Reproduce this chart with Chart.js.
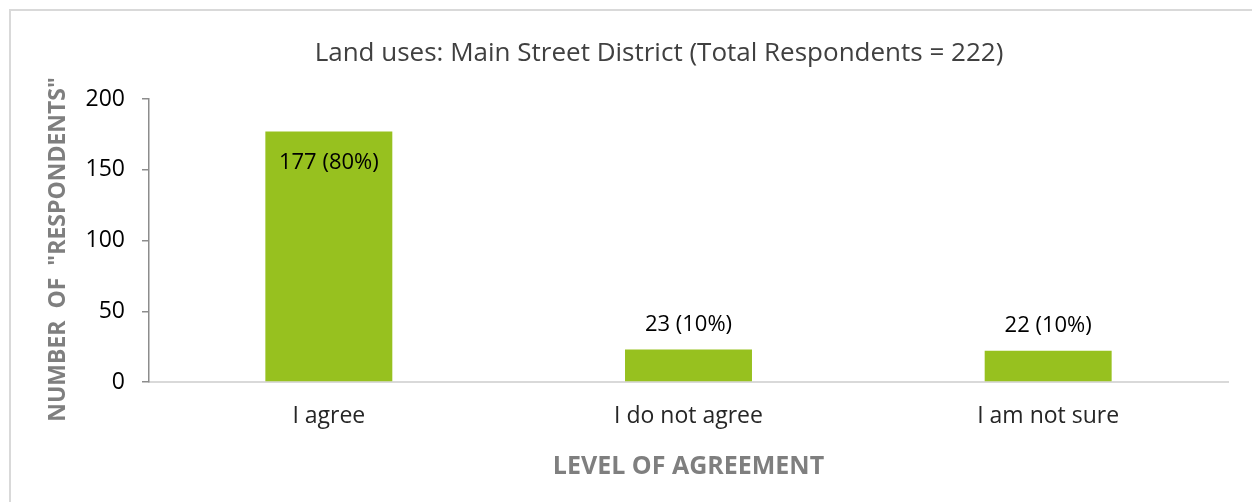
<!DOCTYPE html>
<html>
<head>
<meta charset="utf-8">
<script src="https://cdn.jsdelivr.net/npm/chart.js@4.4.1/dist/chart.umd.min.js"></script>
<style>
    html, body { margin: 0; padding: 0; background: #fff; }
    #wrap { position: relative; width: 1252px; height: 502px; overflow: hidden; }
    #frame { position: absolute; left: 9px; top: 9px; width: 1400px; height: 600px;
             border-left: 2px solid #d9d9d9; border-top: 2px solid #d9d9d9; }
    #chart { position: absolute; left: 0; top: 0; }
</style>
</head>
<body>
<div id="wrap">
    <div id="frame"></div>
    <canvas id="chart" width="1252" height="502"></canvas>
</div>
<script>
// Dữ liệu biểu đồ
const categories = ['I agree', 'I do not agree', 'I am not sure'];
const respondents = [177, 23, 22];
const percents = [80, 10, 10];
const yTicks = [0, 50, 100, 150, 200];

const chartTitle = 'Land uses: Main Street District (Total Respondents = 222)';
const FONT = "'Open Sans', sans-serif";

// Tiêu đề biểu đồ (lệch phải như bản gốc)
const topTitle = {
    id: 'topTitle',
    afterDraw(chart) {
        const ctx = chart.ctx;
        ctx.save();
        ctx.font = '26px ' + FONT;
        ctx.fillStyle = '#404040';
        ctx.textAlign = 'center';
        ctx.textBaseline = 'middle';
        ctx.fillText(chartTitle, 659, 54);
        ctx.restore();
    }
};

// Nhãn dữ liệu: bên trong đầu cột nếu cột cao, phía trên nếu cột thấp
const barLabels = {
    id: 'barLabels',
    afterDatasetsDraw(chart) {
        const ctx = chart.ctx;
        const meta = chart.getDatasetMeta(0);
        ctx.save();
        ctx.font = '22px ' + FONT;
        ctx.fillStyle = '#000';
        ctx.textAlign = 'center';
        ctx.textBaseline = 'middle';
        meta.data.forEach(function(bar, i) {
            const text = respondents[i] + ' (' + percents[i] + '%)';
            const h = bar.base - bar.y;
            const y = h > 60 ? bar.y + 31 : bar.y - 25;
            ctx.fillText(text, bar.x, y);
        });
        ctx.restore();
    }
};

new Chart(document.getElementById('chart').getContext('2d'), {
    type: 'bar',
    data: {
        labels: categories,
        datasets: [{
            data: respondents,
            backgroundColor: '#97c11f',
            borderWidth: 0,
            categoryPercentage: 1,
            barPercentage: 0.353
        }]
    },
    options: {
        responsive: false,
        animation: false,
        devicePixelRatio: 1,
        layout: { padding: { left: 0, right: 24, top: 99, bottom: 0 } },
        plugins: {
            legend: { display: false },
            tooltip: { enabled: false },
            title: { display: false }
        },
        scales: {
            x: {
                grid: { display: false, drawTicks: false },
                border: { display: true, color: '#d9d9d9', width: 2 },
                ticks: { color: '#262626', font: { family: FONT, size: 23 }, padding: 21 },
                title: {
                    display: true,
                    text: 'LEVEL OF AGREEMENT',
                    color: '#7f7f7f',
                    font: { family: FONT, size: 25, weight: 'bold' },
                    padding: { top: 0, bottom: 20 }
                },
                afterFit: function(scale) { scale.height = 120; }
            },
            y: {
                min: 0,
                max: 200,
                afterBuildTicks: function(scale) {
                    scale.ticks = yTicks.map(function(v) { return { value: v }; });
                },
                grid: { display: true, drawOnChartArea: false, drawTicks: true, tickLength: 7, color: '#8c8c8c', lineWidth: 1.5 },
                border: { display: true, color: '#8c8c8c', width: 1.5 },
                ticks: { color: '#000', font: { family: FONT, size: 23 }, padding: 17 },
                title: {
                    display: true,
                    text: 'NUMBER  OF  "RESPONDENTS"   ',
                    color: '#7f7f7f',
                    font: { family: FONT, size: 23, weight: 'bold' },
                    padding: { top: 45, bottom: 0 }
                },
                afterFit: function(scale) { scale.width = 149; }
            }
        }
    },
    plugins: [barLabels, topTitle]
});
</script>
</body>
</html>
